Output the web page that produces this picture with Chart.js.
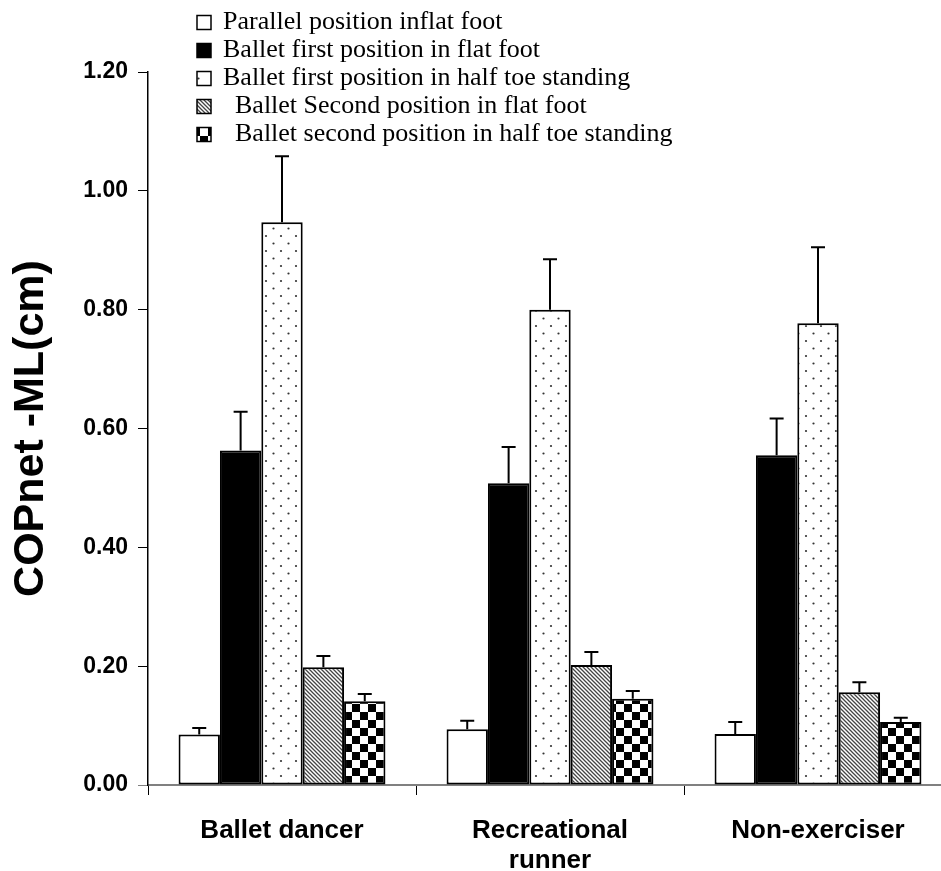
<!DOCTYPE html>
<html>
<head>
<meta charset="utf-8">
<script src="https://cdn.jsdelivr.net/npm/chart.js@4.4.1/dist/chart.umd.min.js"></script>
<style>
html,body{margin:0;padding:0;overflow:hidden;background:#fff;}
canvas{display:block;}
</style>
</head>
<body>
<canvas id="c" width="960" height="871"></canvas>
<script>
// ---- data ----
const categories = ['Ballet dancer', ['Recreational', 'runner'], 'Non-exerciser'];
const seriesLabels = [
  'Parallel position inflat foot',
  'Ballet first position in flat foot',
  'Ballet first position in half toe standing',
  'Ballet Second position in flat foot',
  'Ballet second position in half toe standing'
];
const parallelFlat      = [0.085, 0.094, 0.086];
const firstFlat         = [0.563, 0.508, 0.555];
const firstHalfToe      = [0.947, 0.800, 0.777];
const secondFlat        = [0.198, 0.202, 0.156];
const secondHalfToe     = [0.141, 0.145, 0.106];
const parallelFlatErr   = [0.011, 0.014, 0.020];
const firstFlatErr      = [0.065, 0.061, 0.062];
const firstHalfToeErr   = [0.111, 0.085, 0.128];
const secondFlatErr     = [0.019, 0.022, 0.017];
const secondHalfToeErr  = [0.012, 0.013, 0.007];
const yTicks = [0.00, 0.20, 0.40, 0.60, 0.80, 1.00, 1.20];

// ---- patterns ----
function makePattern(type) {
  const c = document.createElement('canvas');
  const x = c.getContext('2d');
  if (type === 'dots') {
    c.width = 15; c.height = 15;
    x.fillStyle = '#fff'; x.fillRect(0, 0, 15, 15);
    x.fillStyle = '#333';
    x.beginPath(); x.arc(3.5, 3.5, 1.1, 0, Math.PI * 2); x.fill();
    x.beginPath(); x.arc(11, 11, 1.1, 0, Math.PI * 2); x.fill();
  } else if (type === 'stripes') {
    c.width = 4; c.height = 4;
    x.fillStyle = '#fff'; x.fillRect(0, 0, 4, 4);
    x.strokeStyle = '#444'; x.lineWidth = 1.3;
    x.beginPath();
    x.moveTo(-1, -1); x.lineTo(5, 5);
    x.moveTo(-1, 3); x.lineTo(1, 5);
    x.moveTo(3, -1); x.lineTo(5, 1);
    x.stroke();
  } else if (type === 'checker') {
    c.width = 16; c.height = 16;
    x.fillStyle = '#fff'; x.fillRect(0, 0, 16, 16);
    x.fillStyle = '#000';
    x.fillRect(0, 0, 8, 8); x.fillRect(8, 8, 8, 8);
  }
  return x.createPattern(c, 'repeat');
}
const pDots = makePattern('dots');
const pStripes = makePattern('stripes');
const pChecker = makePattern('checker');

const values = [parallelFlat, firstFlat, firstHalfToe, secondFlat, secondHalfToe];
const errors = [parallelFlatErr, firstFlatErr, firstHalfToeErr, secondFlatErr, secondHalfToeErr];
const fills = ['#ffffff', '#000000', pDots, pStripes, pChecker];

const datasets = values.map((v, i) => ({
  label: seriesLabels[i],
  data: v,
  errors: errors[i],
  backgroundColor: fills[i],
  borderColor: '#000',
  borderWidth: 2,
  borderSkipped: false,
  categoryPercentage: 0.772,
  barPercentage: 1.0
}));

// error bars
const errorBarPlugin = {
  id: 'errorBars',
  afterDatasetsDraw(chart) {
    const ctx = chart.ctx;
    const ys = chart.scales.y;
    ctx.save();
    ctx.strokeStyle = '#000';
    ctx.lineWidth = 2;
    chart.data.datasets.forEach((ds, di) => {
      const meta = chart.getDatasetMeta(di);
      meta.data.forEach((el, j) => {
        const v = ds.data[j];
        const e = ds.errors[j];
        const yTop = ys.getPixelForValue(v + e);
        ctx.beginPath();
        ctx.moveTo(el.x, el.y);
        ctx.lineTo(el.x, yTop);
        ctx.moveTo(el.x - 7, yTop);
        ctx.lineTo(el.x + 7, yTop);
        ctx.stroke();
      });
    });
    ctx.restore();
  }
};

// stacked legend at top-left
const legendIndent = [0, 0, 0, 12, 12];
const stackedLegend = {
  id: 'stackedLegend',
  afterDraw(chart) {
    const ctx = chart.ctx;
    ctx.save();
    chart.data.datasets.forEach((ds, i) => {
      const cy = 22.5 + 28 * i;
      const bx = 197, bs = 14;
      ctx.fillStyle = ds.backgroundColor;
      ctx.fillRect(bx, cy - bs / 2, bs, bs);
      ctx.strokeStyle = '#000';
      ctx.lineWidth = 1.5;
      ctx.strokeRect(bx, cy - bs / 2, bs, bs);
      ctx.fillStyle = '#000';
      ctx.font = '26px "Liberation Serif", "Times New Roman", serif';
      ctx.textBaseline = 'middle';
      ctx.textAlign = 'left';
      ctx.fillText(ds.label, 223 + legendIndent[i], cy);
    });
    ctx.restore();
  }
};

new Chart(document.getElementById('c'), {
  type: 'bar',
  data: { labels: categories, datasets },
  options: {
    responsive: false,
    devicePixelRatio: 1,
    animation: false,
    events: [],
    layout: { padding: { top: 72, right: 8, bottom: 0, left: 0 } },
    plugins: { legend: { display: false }, tooltip: { enabled: false } },
    scales: {
      x: {
        grid: { display: true, drawOnChartArea: false, drawTicks: true, tickLength: 10, color: '#000', lineWidth: 1, offset: true },
        border: { display: true, color: '#808080', width: 2 },
        ticks: {
          autoSkip: false, maxRotation: 0, minRotation: 0, padding: 21, color: '#000',
          font: { family: '"Liberation Sans", Arial, sans-serif', size: 26, weight: 'bold', lineHeight: 1.15 }
        },
        afterFit(s) { s.height = 86; }
      },
      y: {
        min: 0, max: 1.2,
        afterBuildTicks(s) { s.ticks = yTicks.map(v => ({ value: v })); },
        grid: {
          display: true, drawOnChartArea: false, drawTicks: true, tickLength: 10, lineWidth: 1,
          color: (c) => (c.tick && c.tick.value === 0 ? '#808080' : '#000')
        },
        border: { display: true, color: '#000', width: 1.5 },
        ticks: {
          padding: 10, color: '#000',
          callback: (v) => Number(v).toFixed(2),
          font: { family: '"Liberation Sans", Arial, sans-serif', size: 23, weight: 'bold' }
        },
        title: {
          display: true, text: 'COPnet -ML(cm)', color: '#000',
          padding: { top: 5, bottom: 0 },
          font: { family: '"Liberation Sans", Arial, sans-serif', size: 43, weight: 'bold', lineHeight: 1.2 }
        },
        afterFit(s) { s.width = 148; }
      }
    }
  },
  plugins: [errorBarPlugin, stackedLegend]
});
</script>
</body>
</html>
